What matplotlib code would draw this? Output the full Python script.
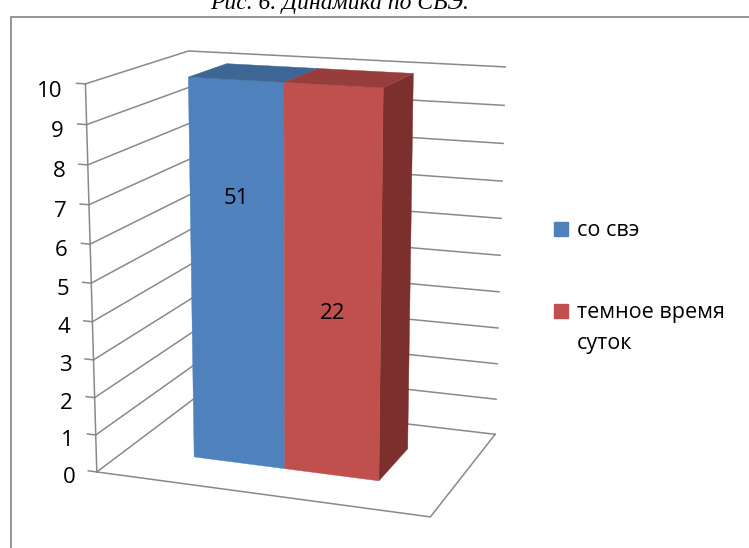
import numpy as np
import matplotlib
matplotlib.use("Agg")
import matplotlib.pyplot as plt
from matplotlib.patches import Rectangle
from mpl_toolkits.mplot3d.art3d import Poly3DCollection

plt.rcParams['font.family'] = ['Open Sans', 'DejaVu Sans']

# data
series = ['со свэ', 'темное время\nсуток']
values = [51, 22]
colors = ['#4F81BD', '#C0504D']
top_colors = ['#3E6694', '#973E3C']
side_color = '#7C302E'
z_ticks = list(range(0, 11))
z_max = 10
title = 'Рис. 6. Динамика по СВЭ.'

# view of the 3d box (fitted to the original excel chart)
elev, azim, focal = 14.42, -69.98, 0.6126
box_w, box_d = 0.887, 0.6287
bar_x0, bar_w = 0.2147, 0.2859
bar_y0, bar_y1 = 0.2975, 0.6958
label_z = [7.0, 4.28]

FW, FH = 749, 548
fig = plt.figure(figsize=(FW / 100, FH / 100), dpi=100)
ax = fig.add_axes([0.0198, -0.0139, 0.7457, 1.0192], projection='3d',
                  proj_type='persp', focal_length=focal, computed_zorder=False)
ax.set_xlim(0, 1)
ax.set_ylim(0, 1)
ax.set_zlim(0, z_max)
ax.view_init(elev=elev, azim=azim)
ax.set_box_aspect((box_w, box_d, 1))
ax.set_axis_off()

grid_c = '#898989'
# walls: left side and back
for z in z_ticks:
    ax.plot([0, 0, 1], [0, 1, 1], [z] * 3, color=grid_c, lw=1.1, zorder=1)
    ax.plot([-0.027, 0], [0, 0], [z, z], color=grid_c, lw=1.1, zorder=1)
    ax.text(-0.07, 0, z - 0.22, str(z), ha='right', va='center', fontsize=16,
            color='black', zorder=4)
# floor and vertical axis
ax.plot([0, 1, 1], [0, 0, 1], [0, 0, 0], color=grid_c, lw=1.1, zorder=1)
ax.plot([0, 0], [0, 0], [0, z_max], color=grid_c, lw=1.1, zorder=1)

# bars (clipped at the axis maximum like in excel)
faces, fcs = [], []
for i, v in enumerate(values):
    h = min(v, z_max)
    xa = bar_x0 + i * bar_w
    xb = xa + bar_w
    faces.append([(xa, bar_y0, 0), (xb, bar_y0, 0), (xb, bar_y0, h), (xa, bar_y0, h)])
    fcs.append(colors[i])
    faces.append([(xa, bar_y0, h), (xb, bar_y0, h), (xb, bar_y1, h), (xa, bar_y1, h)])
    fcs.append(top_colors[i])
    if i == len(values) - 1:
        faces.append([(xb, bar_y0, 0), (xb, bar_y1, 0), (xb, bar_y1, h), (xb, bar_y0, h)])
        fcs.append(side_color)
    ax.text(xa + bar_w / 2, bar_y0, label_z[i], str(v), ha='center', va='center',
            fontsize=16, color='black', zorder=5)
ax.add_collection3d(Poly3DCollection(faces, facecolors=fcs, edgecolors=fcs,
                                     linewidths=0.3, zorder=3))

# legend
leg_y = [229, 311]
for i, name in enumerate(series):
    fig.add_artist(Rectangle((554 / FW, 1 - (leg_y[i] + 7) / FH), 14 / FW, 14 / FH,
                             transform=fig.transFigure, color=colors[i]))
    for j, line in enumerate(name.split('\n')):
        fig.text(577 / FW, 1 - (leg_y[i] + 7 + 31 * j) / FH, line, fontsize=15.5,
                 va='baseline', ha='left')

# chart border and caption above it
fig.add_artist(Rectangle((10.5 / FW, -0.05), 1.1, 1.05 - 17 / FH, transform=fig.transFigure,
                         fill=False, ec='#8C8C8C', lw=1.3))
fig.text(339.5 / FW, 1 - 9 / FH, title, ha='center', va='baseline', fontsize=17,
         family=['Liberation Serif', 'DejaVu Serif'], style='italic')

fig.savefig("out.png", dpi=100)
